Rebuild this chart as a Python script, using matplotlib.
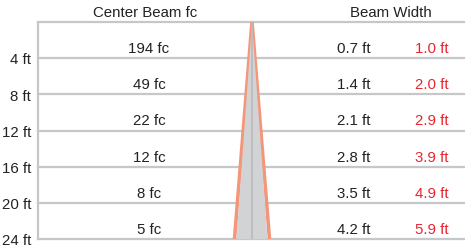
import matplotlib
matplotlib.use('Agg')
import matplotlib.pyplot as plt

plt.rcParams['font.family'] = ['Liberation Sans', 'DejaVu Sans']

# distances (ft) and photometric values
dist = [4, 8, 12, 16, 20, 24]
center_fc = [194, 49, 22, 12, 8, 5]
beam_w = [0.7, 1.4, 2.1, 2.8, 3.5, 4.2]
field_w = [1.0, 2.0, 2.9, 3.9, 4.9, 5.9]

W, H = 465, 252
fig = plt.figure(figsize=(W / 100, H / 100), dpi=100)
# plot area in pixels: x 38..465, y 22..239
ax = fig.add_axes([38 / W, (H - 239) / H, (W - 38) / W, 217 / H])
ax.set_xlim(0, W - 38)
ax.set_ylim(24, 0)
ax.axis('off')

grid_c = '#c6c7cb'
# horizontal lines
for d in [0] + dist:
    ax.plot([0, W - 38], [d, d], color=grid_c, lw=1.6, clip_on=False, zorder=1)
ax.plot([0, 0], [0, 24], color=grid_c, lw=1.6, clip_on=False, zorder=1)

# beam cone (schematic, drawn in axis pixel units)
cx = 252 - 38
half_beam = 15.5
half_field = 17.5
ax.fill([cx, cx - half_beam, cx + half_beam], [0, 24, 24], color='#d1d3d5', lw=0, zorder=3)
ax.plot([cx, cx - half_field], [0, 24], color='#f4967a', lw=2.6, zorder=2, solid_capstyle='butt')
ax.plot([cx, cx + half_field], [0, 24], color='#f4967a', lw=2.6, zorder=2, solid_capstyle='butt')
ax.plot([cx, cx], [0, 24], color='#b9babd', lw=1.2, zorder=4)

# texts
fs = 10.8
ax.text(145 - 38, -1.0, 'Center Beam fc', ha='center', va='center', fontsize=fs, color='#222222')
ax.text(391 - 38, -1.0, 'Beam Width', ha='center', va='center', fontsize=fs, color='#222222')
for d, fc, bw, fw in zip(dist, center_fc, beam_w, field_w):
    yc = d - 1.0
    ax.text(149 - 38, yc, f'{fc} fc', ha='center', va='center', fontsize=fs, color='#222222')
    ax.text(354 - 38, yc, f'{bw:.1f} ft', ha='center', va='center', fontsize=fs, color='#222222')
    ax.text(432 - 38, yc, f'{fw:.1f} ft', ha='center', va='center', fontsize=fs, color='#e8262f')
    ax.text(-7, d + 0.25, f'{d} ft', ha='right', va='center', fontsize=fs, color='#222222', clip_on=False)

fig.savefig('out.png', dpi=100)
